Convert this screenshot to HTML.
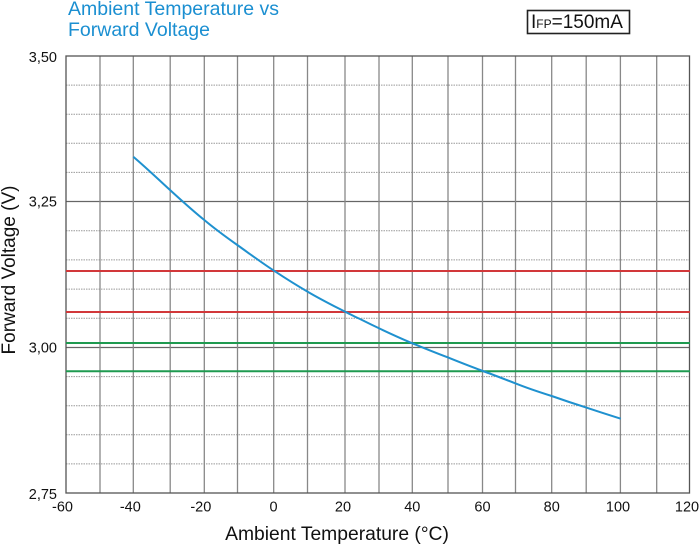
<!DOCTYPE html>
<html><head><meta charset="utf-8"><style>
html,body{margin:0;padding:0;background:#fff;}
svg{display:block;}
text{font-family:"Liberation Sans",Arial,sans-serif;}
</style></head><body>
<svg width="700" height="544" viewBox="0 0 700 544" xmlns="http://www.w3.org/2000/svg">
<rect width="700" height="544" fill="#fff"/>
<!-- title -->
<text x="68" y="15" font-size="19.5" fill="#1b8fd1">Ambient Temperature vs</text>
<text x="68" y="36" font-size="19.5" fill="#1b8fd1">Forward Voltage</text>
<!-- IFP box -->
<rect x="527.5" y="10.5" width="102" height="23" fill="none" stroke="#222" stroke-width="1.6"/>
<text x="531" y="28" font-size="19" fill="#111">I<tspan font-size="12">FP</tspan>=150mA</text>
<!-- dotted gridlines -->
<g stroke="#999" stroke-width="1" stroke-dasharray="1.5,1">
<line x1="66" x2="690" y1="85.1" y2="85.1"/>
<line x1="66" x2="690" y1="114.2" y2="114.2"/>
<line x1="66" x2="690" y1="143.3" y2="143.3"/>
<line x1="66" x2="690" y1="172.4" y2="172.4"/>
<line x1="66" x2="690" y1="230.7" y2="230.7"/>
<line x1="66" x2="690" y1="259.9" y2="259.9"/>
<line x1="66" x2="690" y1="289.1" y2="289.1"/>
<line x1="66" x2="690" y1="318.3" y2="318.3"/>
<line x1="66" x2="690" y1="376.6" y2="376.6"/>
<line x1="66" x2="690" y1="405.7" y2="405.7"/>
<line x1="66" x2="690" y1="434.8" y2="434.8"/>
<line x1="66" x2="690" y1="463.9" y2="463.9"/>
</g>
<!-- solid horizontal -->
<g stroke="#666" stroke-width="1.2">
<line x1="66" x2="690" y1="201.5" y2="201.5"/>
<line x1="66" x2="690" y1="347.5" y2="347.5"/>
</g>
<!-- vertical gridlines -->
<g stroke="#888" stroke-width="1.3">
<line y1="56" y2="493" x1="100" x2="100"/>
<line y1="56" y2="493" x1="133.3" x2="133.3"/>
<line y1="56" y2="493" x1="170.2" x2="170.2"/>
<line y1="56" y2="493" x1="204.3" x2="204.3"/>
<line y1="56" y2="493" x1="237.5" x2="237.5"/>
<line y1="56" y2="493" x1="273.7" x2="273.7"/>
<line y1="56" y2="493" x1="307.5" x2="307.5"/>
<line y1="56" y2="493" x1="345" x2="345"/>
<line y1="56" y2="493" x1="379" x2="379"/>
<line y1="56" y2="493" x1="412.3" x2="412.3"/>
<line y1="56" y2="493" x1="448" x2="448"/>
<line y1="56" y2="493" x1="482.5" x2="482.5"/>
<line y1="56" y2="493" x1="515.5" x2="515.5"/>
<line y1="56" y2="493" x1="551.7" x2="551.7"/>
<line y1="56" y2="493" x1="586.2" x2="586.2"/>
<line y1="56" y2="493" x1="620.4" x2="620.4"/>
<line y1="56" y2="493" x1="656.7" x2="656.7"/>
</g>
<!-- frame -->
<rect x="66" y="56" width="623.5" height="437" fill="none" stroke="#555" stroke-width="1.3"/>
<!-- red/green limits -->
<g stroke-width="2">
<line x1="66" x2="690" y1="271" y2="271" stroke="#d2383a"/>
<line x1="66" x2="690" y1="312" y2="312" stroke="#d2383a"/>
<line x1="66" x2="690" y1="343" y2="343" stroke="#1f9a50"/>
<line x1="66" x2="690" y1="371.3" y2="371.3" stroke="#1f9a50"/>
</g>
<!-- curve -->
<path d="M133.3,156.7 C150,171 160,181 170,190 C181,200 193,211 204.3,220 C215,229 226,237 237.3,245 C250,254 262,263 274,270.7 C285,278 296,285 307.7,291.7 C320,299 332,305 345,311.7 C350,314 355,317 360,319 C378,328 395,336 412.3,343.3 C424,348 436,353 447.7,357.3 C459,362 471,366.5 482.7,371 C494,375 504,379 515.3,383.3 C527,388 539,392 551.7,396 C563,400 575,404 586.7,407.7 C598,411.5 609,415 620.7,418.7" fill="none" stroke="#1f91cf" stroke-width="2"/>
<!-- y tick labels -->
<g font-size="14.5" fill="#111" text-anchor="end">
<text x="57" y="62">3,50</text>
<text x="57" y="206.5">3,25</text>
<text x="57" y="352.5">3,00</text>
<text x="57" y="499">2,75</text>
</g>
<!-- x tick labels -->
<g font-size="14.5" fill="#111" text-anchor="middle">
<text x="62.5" y="511.5">-60</text>
<text x="130.3" y="511.5">-40</text>
<text x="200.8" y="511.5">-20</text>
<text x="273.5" y="511.5">0</text>
<text x="343" y="511.5">20</text>
<text x="412.3" y="511.5">40</text>
<text x="482.5" y="511.5">60</text>
<text x="551.7" y="511.5">80</text>
<text x="618" y="511.5">100</text>
<text x="687" y="511.5">120</text>
</g>
<!-- axis titles -->
<text x="337" y="540" font-size="19.3" fill="#111" text-anchor="middle">Ambient Temperature (°C)</text>
<text transform="translate(15,270) rotate(-90)" font-size="19" fill="#111" text-anchor="middle">Forward Voltage (V)</text>
</svg>
</body></html>
